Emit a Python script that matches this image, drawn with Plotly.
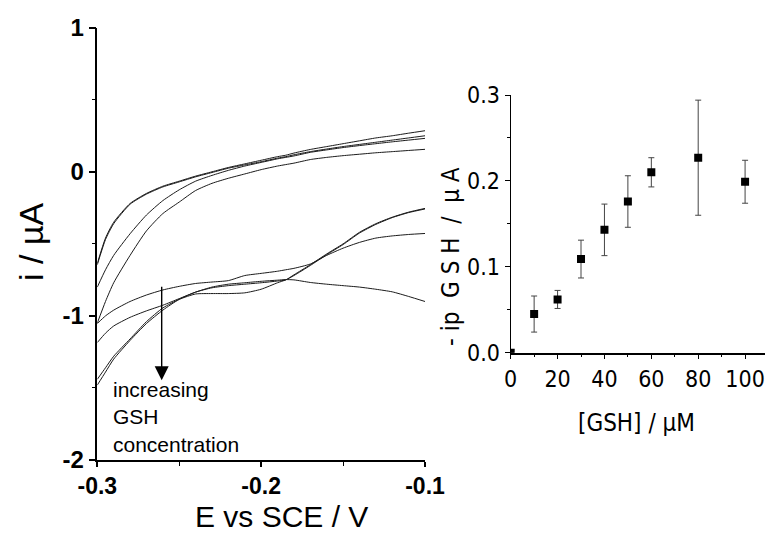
import plotly.graph_objects as go

# ---------------- Left panel: cyclic voltammograms ----------------
E_grid = [-0.3, -0.295, -0.29, -0.28, -0.27, -0.26, -0.25, -0.24, -0.23, -0.22, -0.21, -0.2,
          -0.19, -0.185, -0.18, -0.17, -0.16, -0.15, -0.14, -0.13, -0.12, -0.11, -0.1]

# anodic (upper) branches, current in uA
up1_I = [-0.636, -0.46, -0.35, -0.22, -0.15, -0.10, -0.065, -0.03, 0.0, 0.03, 0.055, 0.08,
         0.105, 0.115, 0.13, 0.155, 0.175, 0.195, 0.215, 0.235, 0.25, 0.268, 0.285]
up2_I = [-0.645, -0.47, -0.36, -0.225, -0.155, -0.105, -0.07, -0.035, -0.005, 0.025, 0.048, 0.07,
         0.095, 0.105, 0.118, 0.14, 0.158, 0.175, 0.19, 0.205, 0.22, 0.235, 0.25]
up3_I = [-0.80, -0.68, -0.58, -0.43, -0.30, -0.20, -0.125, -0.065, -0.025, 0.01, 0.04, 0.065,
         0.09, 0.10, 0.11, 0.135, 0.152, 0.168, 0.182, 0.195, 0.208, 0.22, 0.232]
up4_I = [-1.05, -0.90, -0.77, -0.58, -0.41, -0.29, -0.21, -0.13, -0.08, -0.045, -0.015, 0.015,
         0.04, 0.05, 0.06, 0.085, 0.10, 0.112, 0.122, 0.132, 0.14, 0.148, 0.156]

# cathodic (lower) branches, current in uA
low1_I = [-1.053, -1.0, -0.96, -0.90, -0.855, -0.82, -0.795, -0.775, -0.765, -0.755, -0.72, -0.705,
          -0.69, -0.68, -0.67, -0.64, -0.58, -0.53, -0.49, -0.46, -0.445, -0.435, -0.428]
low2_I = [-1.185, -1.12, -1.07, -1.01, -0.965, -0.926, -0.88, -0.835, -0.80, -0.78, -0.77, -0.76,
          -0.752, -0.748, -0.75, -0.768, -0.78, -0.79, -0.80, -0.815, -0.833, -0.865, -0.90]
low3_I = [-1.48, -1.39, -1.30, -1.17, -1.053, -0.96, -0.885, -0.835, -0.805, -0.79, -0.78, -0.77,
          -0.758, -0.75, -0.715, -0.645, -0.57, -0.50, -0.42, -0.36, -0.315, -0.28, -0.254]
low4_I = [-1.44, -1.36, -1.28, -1.16, -1.04, -0.945, -0.885, -0.848, -0.845, -0.845, -0.84, -0.815,
          -0.77, -0.75, -0.72, -0.65, -0.575, -0.505, -0.425, -0.365, -0.318, -0.283, -0.258]

cv_branches = [up1_I, up2_I, up3_I, up4_I, low1_I, low2_I, low3_I, low4_I]

cv_xticks = [-0.3, -0.2, -0.1]
cv_xticktext = ["-0.3", "-0.2", "-0.1"]
cv_yticks = [-2, -1, 0, 1]
cv_yticktext = ["-2", "-1", "0", "1"]

arrow_E = -0.2607
arrow_from = -0.787
arrow_to = -1.447

# ---------------- Right panel: peak current vs [GSH] ----------------
gsh_conc = [0, 10, 20, 30, 40, 50, 60, 80, 100]
ip_gsh = [0.0, 0.045, 0.062, 0.109, 0.143, 0.176, 0.210, 0.227, 0.199]
ip_err = [0.0, 0.021, 0.0105, 0.022, 0.03, 0.03, 0.017, 0.067, 0.025]

LEFT_FONT = "Liberation Sans, Arial, sans-serif"
NARROW_FONT = "DejaVu Sans Condensed, Liberation Sans Narrow, sans-serif"

fig = go.Figure()

for branch in cv_branches:
    fig.add_trace(go.Scatter(x=E_grid, y=branch, mode="lines",
                             line=dict(color="#1a1a1a", width=1, shape="spline", smoothing=0.6),
                             xaxis="x", yaxis="y", showlegend=False, hoverinfo="skip"))

fig.add_trace(go.Scatter(
    x=gsh_conc, y=ip_gsh, mode="markers",
    marker=dict(symbol="square", size=8, color="black"),
    error_y=dict(type="data", array=ip_err, visible=True, color="#444", thickness=1, width=3),
    xaxis="x2", yaxis="y2", showlegend=False))

axis_common = dict(showline=True, linecolor="black", showgrid=False, zeroline=False,
                   ticks="outside", tickcolor="black", mirror=False, automargin=False,
                   ticklabeloverflow="allow")

fig.update_layout(
    template="none",
    width=765, height=535,
    margin=dict(l=0, r=0, t=0, b=0, pad=0),
    paper_bgcolor="white", plot_bgcolor="white",
    font=dict(family=LEFT_FONT, color="black"),
    xaxis=dict(axis_common, domain=[97.3 / 765, 425 / 765], range=[-0.3, -0.1],
               linewidth=1.5, tickwidth=1.5, ticklen=5,
               tickvals=cv_xticks, ticktext=cv_xticktext,
               tickfont=dict(family=LEFT_FONT, size=23, color="black", weight="bold"),
               minor=dict(ticks="outside", ticklen=4, tickwidth=1.2, tickcolor="black",
                          tick0=-0.3, dtick=0.05),
               anchor="y"),
    yaxis=dict(axis_common, domain=[(535 - 460) / 535, (535 - 27.7) / 535], range=[-2, 1],
               linewidth=1.5, tickwidth=1.5, ticklen=7,
               tickvals=cv_yticks, ticktext=cv_yticktext,
               tickfont=dict(family=LEFT_FONT, size=24, color="black", weight="bold"),
               minor=dict(ticks="outside", ticklen=4, tickwidth=1.2, tickcolor="black",
                          tick0=-2, dtick=0.5),
               anchor="x"),
    xaxis2=dict(axis_common, domain=[510.7 / 765, 1.0], range=[0, 108.5],
                linewidth=1.5, tickwidth=1.2, ticklen=5,
                tick0=0, dtick=20,
                tickfont=dict(family=NARROW_FONT, size=23, color="black"),
                minor=dict(ticks="outside", ticklen=3, tickwidth=1, tickcolor="black",
                           tick0=0, dtick=10),
                anchor="y2"),
    yaxis2=dict(axis_common, domain=[(535 - 352.7) / 535, (535 - 95) / 535], range=[0, 0.3],
                linewidth=1.2, tickwidth=1.2, ticklen=5,
                tick0=0, dtick=0.1, tickformat=".1f",
                tickfont=dict(family=NARROW_FONT, size=23, color="black"),
                minor=dict(ticks="outside", ticklen=3, tickwidth=1, tickcolor="black",
                           tick0=0, dtick=0.05),
                anchor="x2"),
)

# axis titles as annotations
title_kw = dict(xref="paper", yref="paper", showarrow=False, xanchor="center", yanchor="middle")
fig.add_annotation(x=281 / 765, y=(535 - 516) / 535, text="E vs SCE / V",
                   font=dict(family=LEFT_FONT, size=30, color="black"), **title_kw)
fig.add_annotation(x=31 / 765, y=(535 - 242) / 535, text="i / µA", textangle=-90,
                   font=dict(family=LEFT_FONT, size=34, color="black"), **title_kw)
fig.add_annotation(x=636 / 765, y=(535 - 423) / 535, text="[GSH] / µM",
                   font=dict(family=NARROW_FONT, size=24, color="black"), **title_kw)
fig.add_annotation(x=451 / 765, y=(535 - 257) / 535, text="- ip  G S H  /  µ A", textangle=-90,
                   font=dict(family=NARROW_FONT, size=24, color="black"), **title_kw)

# arrow and its label
fig.add_annotation(xref="x", yref="y", axref="x", ayref="y",
                   x=arrow_E, y=arrow_to, ax=arrow_E, ay=arrow_from,
                   text="", showarrow=True, arrowhead=2, arrowsize=2.0, arrowwidth=1.4,
                   arrowcolor="black")
fig.add_annotation(xref="x", yref="y", x=-0.2915, y=-1.70, xanchor="left", yanchor="middle",
                   align="left", showarrow=False,
                   text="increasing<br>GSH<br>concentration",
                   font=dict(family=LEFT_FONT, size=21, color="black"))

fig.write_html("out.html", config={"displayModeBar": False},
               post_script="document.body.style.margin='0';")
